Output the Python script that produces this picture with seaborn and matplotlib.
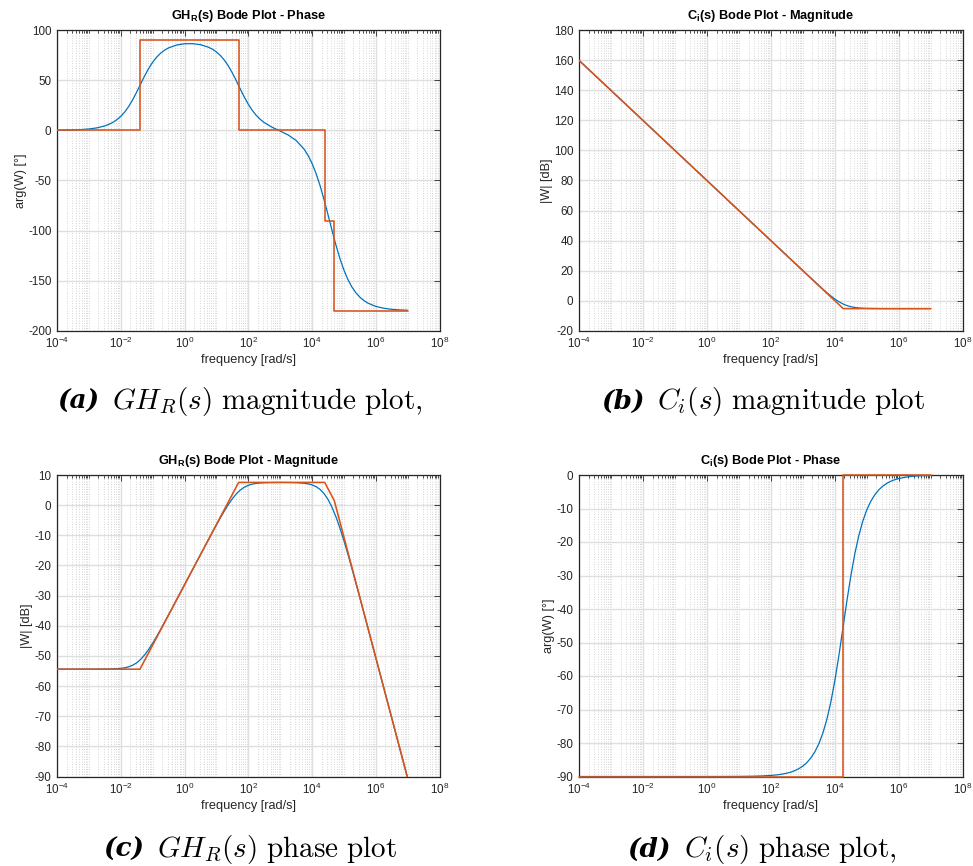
import numpy as np
import pandas as pd
import matplotlib
matplotlib.use("Agg")
import matplotlib.pyplot as plt
import seaborn as sns
from matplotlib.ticker import FixedLocator, FuncFormatter, NullLocator, NullFormatter
from matplotlib.offsetbox import TextArea, HPacker, AnchoredOffsetbox

# ---------------- data ----------------
LOG_W = [-4.0, -3.75, -3.5, -3.25, -3.0, -2.75, -2.5, -2.25, -2.0, -1.75, -1.5,
         -1.25, -1.0, -0.75, -0.5, -0.25, 0.0, 0.25, 0.5, 0.75, 1.0, 1.25, 1.5,
         1.75, 2.0, 2.25, 2.5, 2.75, 3.0, 3.25, 3.5, 3.75, 4.0, 4.25, 4.5, 4.75,
         5.0, 5.25, 5.5, 5.75, 6.0, 6.25, 6.5, 6.75, 7.0]

# (a) GH_R(s) phase, degrees
GHR_PHASE = [0.14, 0.25, 0.45, 0.80, 1.43, 2.55, 4.52, 8.00, 14.03, 23.95, 38.29,
             54.52, 68.08, 77.12, 82.43, 85.29, 86.56, 86.67, 85.66, 83.14, 78.43,
             70.22, 57.48, 41.39, 26.21, 15.09, 7.90, 3.15, -0.58, -4.50, -9.92,
             -18.59, -32.82, -54.83, -83.90, -114.36, -139.36, -156.28, -166.49,
             -172.37, -175.71, -177.58, -178.64, -179.24, -179.57]
GHR_PHASE_EXTRA_LOGW = [-2.375, -2.125, -1.875, -1.625, -1.375, -1.125, -0.875,
                        -0.625, 0.875, 1.125, 1.375, 1.625, 1.875, 2.125, 2.375,
                        3.875, 4.125, 4.375, 4.625, 4.875, 5.125, 5.375, 5.625]
GHR_PHASE_EXTRA = [6.02, 10.62, 18.43, 30.64, 46.48, 61.83, 73.15, 80.16, 81.13,
                   74.85, 64.45, 49.66, 33.40, 20.08, 11.08, -24.85, -42.80,
                   -68.74, -99.42, -127.83, -148.80, -162.06, -169.84]
GHR_PHASE_ASYM_W = [1e-4, 0.04, 0.04, 50, 50, 2.5e4, 2.5e4, 5e4, 5e4, 1e7]
GHR_PHASE_ASYM = [0, 0, 90, 90, 0, 0, -90, -90, -180, -180]

# (c) GH_R(s) magnitude, dB
GHR_MAG = [-54.40, -54.40, -54.40, -54.40, -54.40, -54.39, -54.37, -54.31, -54.14,
           -53.62, -52.29, -49.66, -45.80, -41.23, -36.37, -31.42, -26.44, -21.44,
           -16.46, -11.50, -6.61, -1.96, 2.10, 5.01, 6.57, 7.21, 7.43, 7.50, 7.52,
           7.51, 7.45, 7.27, 6.73, 5.25, 1.93, -3.84, -11.75, -20.94, -30.66,
           -40.57, -50.54, -60.53, -70.52, -80.52, -90.52]
GHR_MAG_EXTRA_LOGW = [-2.125, -1.875, -1.625, -1.375, -1.125, -0.875, 1.125, 1.375,
                      1.625, 1.875, 2.125, 2.375, 3.875, 4.125, 4.375, 4.625, 4.875,
                      5.125]
GHR_MAG_EXTRA = [-54.25, -53.94, -53.09, -51.15, -47.85, -43.57, -4.24, 0.18, 3.73,
                 5.94, 6.97, 7.35, 7.07, 6.15, 3.87, -0.64, -7.58, -16.24]
GHR_MAG_ASYM_W = [1e-4, 0.04, 50, 2.5e4, 5e4, 1e7]
GHR_MAG_ASYM = [-54.40, -54.40, 7.54, 7.54, 1.52, -90.52]

# (b) C_i(s) magnitude, dB
CI_MAG = [160.0, 155.0, 150.0, 145.0, 140.0, 135.0, 130.0, 125.0, 120.0, 115.0,
          110.0, 105.0, 100.0, 95.0, 90.0, 85.0, 80.0, 75.0, 70.0, 65.0, 60.0,
          55.0, 50.0, 45.0, 40.0, 35.0, 30.0, 25.0, 20.01, 15.04, 10.12, 5.38,
          1.12, -2.14, -4.03, -4.86, -5.16, -5.25, -5.29, -5.30, -5.30, -5.30,
          -5.30, -5.30, -5.30]
CI_MAG_EXTRA_LOGW = [3.375, 3.625, 3.875, 4.125, 4.375, 4.625, 4.875]
CI_MAG_EXTRA = [12.57, 7.72, 3.16, -0.67, -3.25, -4.54, -5.05]
CI_MAG_ASYM_W = [1e-4, 1.84e4, 1e7]
CI_MAG_ASYM = [160.0, -5.30, -5.30]

# (d) C_i(s) phase, degrees
CI_PHASE = [-90.00] * 17 + [-89.99, -89.99, -89.98, -89.97, -89.94, -89.90, -89.82,
            -89.69, -89.45, -89.02, -88.25, -86.89, -84.48, -80.25, -73.01, -61.48,
            -45.98, -30.20, -18.12, -10.42, -5.91, -3.33, -1.87, -1.05, -0.59,
            -0.33, -0.19, -0.11]
CI_PHASE_EXTRA_LOGW = [2.375, 2.625, 2.875, 3.125, 3.375, 3.625, 3.875, 4.125,
                       4.375, 4.625, 4.875, 5.125, 5.375, 5.625, 5.875]
CI_PHASE_EXTRA = [-89.26, -88.69, -87.67, -85.86, -82.66, -77.09, -67.83, -54.07,
                  -37.81, -23.57, -13.79, -7.86, -4.44, -2.50, -1.41]
CI_PHASE_ASYM_W = [1e-4, 1.84e4, 1.84e4, 1e7]
CI_PHASE_ASYM = [-90, -90, 0, 0]

TITLES = [r"GH$_{\mathbf{R}}$(s) Bode Plot - Phase",
          r"C$_{\mathbf{i}}$(s) Bode Plot - Magnitude",
          r"GH$_{\mathbf{R}}$(s) Bode Plot - Magnitude",
          r"C$_{\mathbf{i}}$(s) Bode Plot - Phase"]
YLABELS = ["arg(W) [°]", "|W| [dB]", "|W| [dB]", "arg(W) [°]"]
XLABEL = "frequency [rad/s]"
YLIMS = [(-200, 100), (-20, 180), (-90, 10), (-90, 0)]
YSTEPS = [50, 20, 10, 10]
XTICK_EXP = [-4, -2, 0, 2, 4, 6, 8]
CAP_LETTERS = ["(a)", "(b)", "(c)", "(d)"]
CAP_TEXTS = [r"$GH_R(s)\ \mathrm{magnitude\ plot,}$",
             r"$C_i(s)\ \mathrm{magnitude\ plot}$",
             r"$GH_R(s)\ \mathrm{phase\ plot}$",
             r"$C_i(s)\ \mathrm{phase\ plot,}$"]

BLUE = "#0072BD"
RED = "#D95319"
DARK = "#262626"

# ---------------- style ----------------
sns.set_theme(style="white")
plt.rcParams["font.family"] = ["Liberation Sans", "DejaVu Sans"]
plt.rcParams["mathtext.fontset"] = "custom"
plt.rcParams["mathtext.rm"] = "Liberation Sans"
plt.rcParams["mathtext.bf"] = "Liberation Sans:bold"
plt.rcParams["mathtext.it"] = "Liberation Sans:italic"
plt.rcParams["mathtext.sf"] = "Liberation Sans"
plt.rcParams["mathtext.default"] = "it"
plt.rcParams["axes.unicode_minus"] = False

W = 973.0
H = 866.0
fig = plt.figure(figsize=(W / 100, H / 100), dpi=100)
fig.patch.set_facecolor("white")

def frac(l, t, r, b):
    return [l / W, 1 - b / H, (r - l) / W, (b - t) / H]

positions = [frac(57, 30.3, 439.5, 330.7), frac(579, 30.3, 962.7, 330.7),
             frac(57, 475, 439.5, 776.5), frac(579, 475, 962.7, 776.5)]
axes = [fig.add_axes(p) for p in positions]

blue_series = [(GHR_PHASE, GHR_PHASE_EXTRA_LOGW, GHR_PHASE_EXTRA),
               (CI_MAG, CI_MAG_EXTRA_LOGW, CI_MAG_EXTRA),
               (GHR_MAG, GHR_MAG_EXTRA_LOGW, GHR_MAG_EXTRA),
               (CI_PHASE, CI_PHASE_EXTRA_LOGW, CI_PHASE_EXTRA)]
red_series = [(GHR_PHASE_ASYM_W, GHR_PHASE_ASYM), (CI_MAG_ASYM_W, CI_MAG_ASYM),
              (GHR_MAG_ASYM_W, GHR_MAG_ASYM), (CI_PHASE_ASYM_W, CI_PHASE_ASYM)]

major_x = [10.0 ** e for e in XTICK_EXP]
minor_x = [m * 10.0 ** k for k in range(-4, 8) for m in range(1, 10)
           if not (m == 1 and k % 2 == 0)]

for i, ax in enumerate(axes):
    ax.set_xscale("log")
    base_vals, ex_logw, ex_vals = blue_series[i]
    dfb = pd.DataFrame({"w": 10.0 ** np.array(LOG_W + ex_logw),
                        "v": list(base_vals) + list(ex_vals)}).sort_values("w")
    sns.lineplot(data=dfb, x="w", y="v", ax=ax, color=BLUE, lw=0.9,
                 sort=True, estimator=None, zorder=3)
    rw, rv = red_series[i]
    dfr = pd.DataFrame({"w": rw, "v": rv})
    sns.lineplot(data=dfr, x="w", y="v", ax=ax, color=RED, lw=1.15,
                 sort=False, estimator=None, zorder=4, clip_on=(i != 3))
    ax.set_xlim(1e-4, 1e8)
    lo, hi = YLIMS[i]
    ax.set_ylim(lo, hi)
    ax.yaxis.set_major_locator(FixedLocator(list(range(lo, hi + 1, YSTEPS[i]))))
    ax.yaxis.set_minor_locator(NullLocator())
    ax.xaxis.set_major_locator(FixedLocator(major_x))
    ax.xaxis.set_minor_locator(FixedLocator(minor_x))
    ax.xaxis.set_major_formatter(FuncFormatter(
        lambda v, p: r"$\mathregular{10^{%d}}$" % int(round(np.log10(v)))))
    ax.xaxis.set_minor_formatter(NullFormatter())
    ax.grid(which="major", color="#dfdfdf", lw=1.0, ls="-", zorder=0)
    ax.grid(which="minor", axis="x", color="#c8c8c8", lw=0.6, ls=(0, (1, 2)), zorder=0)
    ax.set_axisbelow(True)
    ax.tick_params(which="both", direction="in", top=True, right=True,
                   color=DARK, labelcolor=DARK, labelsize=8.4, width=0.6)
    ax.tick_params(which="major", length=4, pad=4)
    ax.tick_params(which="minor", length=2)
    for s in ax.spines.values():
        s.set_color(DARK)
        s.set_linewidth(0.9)
        s.set_visible(True)
    ax.set_xlabel(XLABEL, fontsize=9.2, color=DARK, labelpad=2)
    ax.set_ylabel(YLABELS[i], fontsize=9.2, color=DARK, labelpad=1)
    ax.set_title(TITLES[i], fontsize=9.2, fontweight="bold", color="black", pad=8)

# captions
cap_xy = [(240, 401), (763, 401), (250, 849), (762, 849)]
for i in range(4):
    t1 = TextArea(CAP_LETTERS[i], textprops=dict(
        family="DejaVu Serif", style="italic", weight="bold", size=19, color="black"))
    t2 = TextArea(CAP_TEXTS[i], textprops=dict(math_fontfamily="cm", size=21, color="black"))
    box = HPacker(children=[t1, t2], align="baseline", pad=0, sep=9)
    x, y = cap_xy[i]
    ab = AnchoredOffsetbox(loc="center", child=box, frameon=False, pad=0, borderpad=0,
                           bbox_to_anchor=(x / W, 1 - y / H),
                           bbox_transform=fig.transFigure)
    fig.add_artist(ab)

fig.savefig("out.png", dpi=100)
